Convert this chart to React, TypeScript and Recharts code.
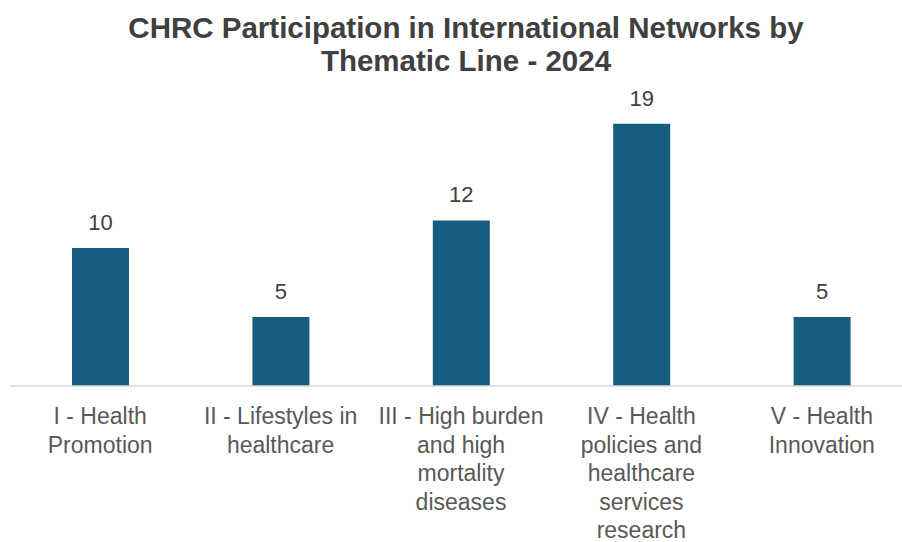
import React from 'react';
import { BarChart, Bar, XAxis, YAxis, LabelList } from 'recharts';

const categories = [
    'I - Health\nPromotion',
    'II - Lifestyles in\nhealthcare',
    'III - High burden\nand high\nmortality\ndiseases',
    'IV - Health\npolicies and\nhealthcare\nservices\nresearch',
    'V - Health\nInnovation',
];
const networks = [10, 5, 12, 19, 5];

const chartData = categories.map((name, i) => ({ name, value: networks[i] }));

const FONT = '"Liberation Sans", Arial, sans-serif';

// Étiquettes de l'axe X sur plusieurs lignes
// eslint-disable-next-line @typescript-eslint/no-explicit-any
const MultiLineTick = ({ x, y, payload }: any) => {
    const lines = String(payload.value).split('\n');
    return (
        <text x={x} y={y + 30} textAnchor="middle" fontFamily={FONT} fontSize={23} fill="#595959">
            {lines.map((line, i) => (
                <tspan key={i} x={x} dy={i === 0 ? 0 : 28.6}>{line}</tspan>
            ))}
        </text>
    );
};

const App: React.FC = () => {
    return (
        <div style={{ position: 'fixed', left: 0, top: 0, width: 902, height: 542, overflow: 'hidden', background: '#fff' }}>
            <div
                style={{
                    position: 'absolute',
                    left: 0,
                    top: 11,
                    width: 932,
                    textAlign: 'center',
                    fontFamily: FONT,
                    fontWeight: 'bold',
                    fontSize: 29.5,
                    lineHeight: '33.4px',
                    color: '#404040',
                }}
            >
                CHRC Participation in International Networks by
                <br />
                Thematic Line - 2024
            </div>
            <BarChart
                width={912}
                height={542}
                data={chartData}
                margin={{ top: 110, right: 0, bottom: 126, left: 10 }}
            >
                <XAxis
                    dataKey="name"
                    axisLine={{ stroke: '#d9d9d9', strokeWidth: 1.5 }}
                    tickLine={false}
                    interval={0}
                    tick={<MultiLineTick />}
                />
                <YAxis hide domain={[0, 20]} />
                <Bar dataKey="value" fill="#165E80" barSize={57} isAnimationActive={false}>
                    <LabelList
                        dataKey="value"
                        position="top"
                        offset={18}
                        fontFamily={FONT}
                        fontSize={22}
                        fill="#404040"
                    />
                </Bar>
            </BarChart>
        </div>
    );
};

export default App;
